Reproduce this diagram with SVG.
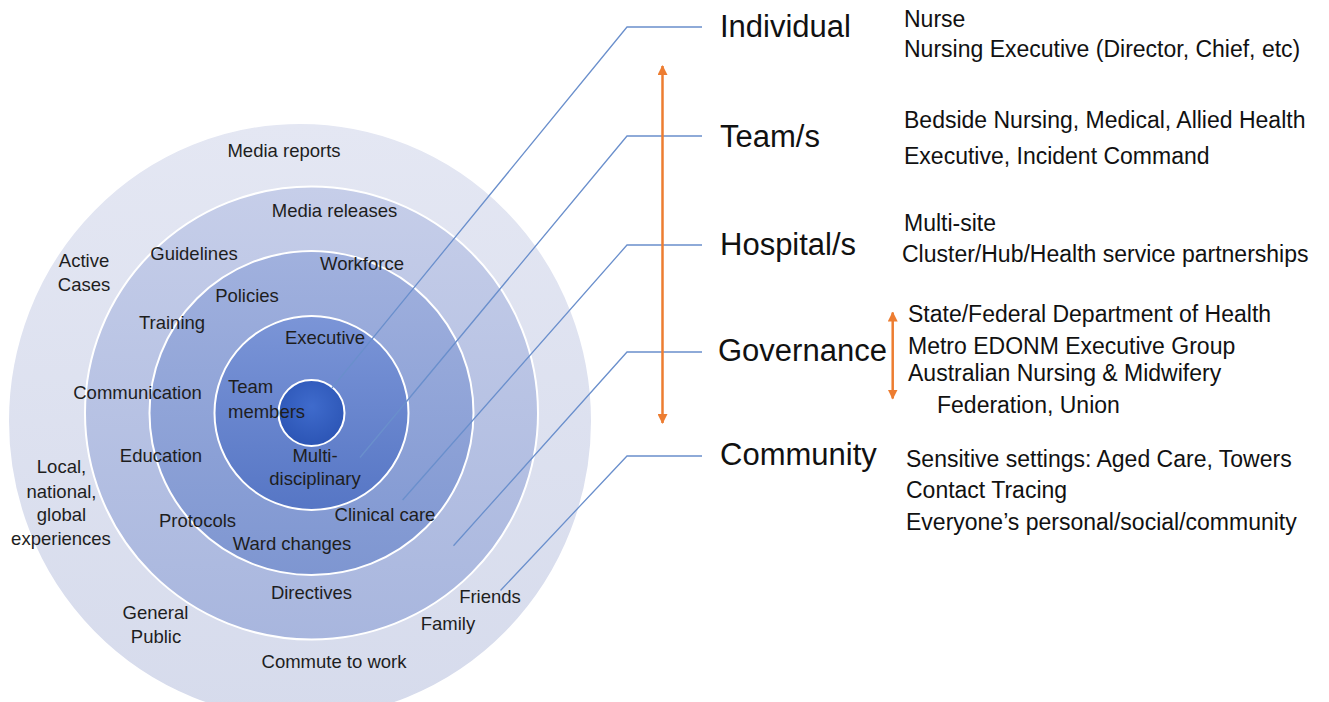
<svg xmlns="http://www.w3.org/2000/svg" width="1329" height="702" viewBox="0 0 1329 702">
<style>
.lbl{font-family:"Liberation Sans",Arial,sans-serif;font-size:18.5px;fill:#1e1e1e;text-anchor:middle}
.lbs{font-family:"Liberation Sans",Arial,sans-serif;font-size:18.5px;fill:#1e1e1e}
.hdr{font-family:"Liberation Sans",Arial,sans-serif;font-size:31px;fill:#111}
.det{font-family:"Liberation Sans",Arial,sans-serif;font-size:23px;fill:#111}
.ring{stroke:#ffffff;stroke-width:2}
.conn{fill:none;stroke:#6a8fcc;stroke-width:1.3}
.orange{stroke:#ed7d31;stroke-width:2.5;fill:none}
</style>
<defs>
<linearGradient id="g0" x1="0" y1="0" x2="0" y2="1"><stop offset="0" stop-color="#e4e7f3"/><stop offset="1" stop-color="#d6dbec"/></linearGradient>
<linearGradient id="g1" x1="0" y1="0" x2="0" y2="1"><stop offset="0" stop-color="#c6cee9"/><stop offset="1" stop-color="#a8b6de"/></linearGradient>
<linearGradient id="g2" x1="0" y1="0" x2="0" y2="1"><stop offset="0" stop-color="#a1b1de"/><stop offset="1" stop-color="#7e96d1"/></linearGradient>
<linearGradient id="g3" x1="0" y1="0" x2="0" y2="1"><stop offset="0" stop-color="#7b95d7"/><stop offset="1" stop-color="#5676c5"/></linearGradient>
<radialGradient id="g4" cx="0.5" cy="0.4" r="0.6"><stop offset="0" stop-color="#3f6bcc"/><stop offset="1" stop-color="#2c55b5"/></radialGradient>
<marker id="ah" viewBox="0 0 10 10" refX="9" refY="5" markerWidth="4" markerHeight="4" orient="auto-start-reverse"><path d="M0,0 L10,5 L0,10 z" fill="#ed7d31"/></marker>
</defs>
<rect width="1329" height="702" fill="#ffffff"/>

<g id="rings">
<ellipse id="ring-outer" class="ring" cx="300" cy="421" rx="292" ry="298" fill="url(#g0)"/>
<circle id="ring-2" class="ring" cx="311.5" cy="413" r="226.5" fill="url(#g1)"/>
<circle id="ring-3" class="ring" cx="311.5" cy="413" r="162" fill="url(#g2)"/>
<circle id="ring-4" class="ring" cx="311.5" cy="413" r="97" fill="url(#g3)"/>
<circle id="ring-core" class="ring" cx="311.5" cy="413" r="33" fill="url(#g4)"/>
</g>

<g id="ring-labels">
<text class="lbl" x="284" y="157">Media reports</text>
<text class="lbl" x="334.5" y="217">Media releases</text>
<text class="lbl" x="84" y="267">Active</text>
<text class="lbl" x="84" y="291">Cases</text>
<text class="lbl" x="194" y="260">Guidelines</text>
<text class="lbl" x="362" y="270">Workforce</text>
<text class="lbl" x="247" y="301.5">Policies</text>
<text class="lbl" x="172" y="328.5">Training</text>
<text class="lbl" x="325" y="343.5">Executive</text>
<text class="lbl" x="137.5" y="398.5">Communication</text>
<text class="lbs" x="228" y="392.5">Team</text>
<text class="lbs" x="228" y="417.5">members</text>
<text class="lbl" x="161" y="461.5">Education</text>
<text class="lbl" x="315" y="461.5">Multi-</text>
<text class="lbl" x="315" y="484.5">disciplinary</text>
<text class="lbl" x="61.5" y="473">Local,</text>
<text class="lbl" x="61.5" y="498">national,</text>
<text class="lbl" x="61.5" y="521">global</text>
<text class="lbl" x="61" y="544.5">experiences</text>
<text class="lbl" x="197.5" y="526.5">Protocols</text>
<text class="lbl" x="385" y="521">Clinical care</text>
<text class="lbl" x="292" y="549.5">Ward changes</text>
<text class="lbl" x="311.5" y="599">Directives</text>
<text class="lbl" x="490" y="603">Friends</text>
<text class="lbl" x="448" y="630">Family</text>
<text class="lbl" x="155.5" y="618.5">General</text>
<text class="lbl" x="156" y="642.5">Public</text>
<text class="lbl" x="334" y="667.5">Commute to work</text>
</g>

<g id="connectors">
<polyline class="conn" points="331.7,388.3 627,27 702,27"/>
<polyline class="conn" points="360,457.5 627,136 702,136"/>
<polyline class="conn" points="402.6,500 627,245 702,245"/>
<polyline class="conn" points="453.5,545.8 627,352 702,352"/>
<polyline class="conn" points="500.5,590.5 627,456 702,456"/>
<line class="orange" x1="662.5" y1="66" x2="662.5" y2="423" marker-start="url(#ah)" marker-end="url(#ah)"/>
<line class="orange" x1="892.7" y1="312.5" x2="892.7" y2="398.5" marker-start="url(#ah)" marker-end="url(#ah)"/>
</g>

<g id="level-individual">
<text class="hdr" x="720" y="36.7">Individual</text>
<text class="det" x="904" y="27.3">Nurse</text>
<text class="det" x="904" y="57.3">Nursing Executive (Director, Chief, etc)</text>
</g>
<g id="level-teams">
<text class="hdr" x="720" y="146.7">Team/s</text>
<text class="det" x="904" y="128.3">Bedside Nursing, Medical, Allied Health</text>
<text class="det" x="904" y="164.3">Executive, Incident Command</text>
</g>
<g id="level-hospitals">
<text class="hdr" x="720" y="255">Hospital/s</text>
<text class="det" x="904" y="230.7">Multi-site</text>
<text class="det" x="902" y="261.7">Cluster/Hub/Health service partnerships</text>
</g>
<g id="level-governance">
<text class="hdr" x="718" y="360.7">Governance</text>
<text class="det" x="908" y="321.7">State/Federal Department of Health</text>
<text class="det" x="908" y="354.3">Metro EDONM Executive Group</text>
<text class="det" x="908" y="380.7">Australian Nursing &amp; Midwifery</text>
<text class="det" x="937" y="413.3">Federation, Union</text>
</g>
<g id="level-community">
<text class="hdr" x="720" y="465">Community</text>
<text class="det" x="906" y="466.7">Sensitive settings: Aged Care, Towers</text>
<text class="det" x="906" y="498.3">Contact Tracing</text>
<text class="det" x="906" y="530">Everyone’s personal/social/community</text>
</g>
</svg>
